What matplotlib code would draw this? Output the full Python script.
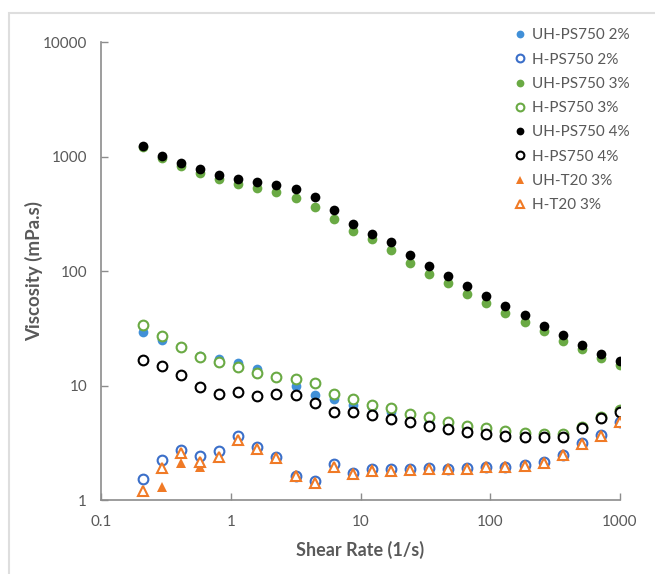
import matplotlib
matplotlib.use('Agg')
import matplotlib.pyplot as plt
from matplotlib.patches import Rectangle

plt.rcParams['font.family'] = ['Lato', 'DejaVu Sans']

# shear rate steps (1/s)
shear_rate = [0.21, 0.295, 0.414, 0.581, 0.815, 1.14, 1.60, 2.25, 3.16, 4.43,
              6.21, 8.72, 12.2, 17.2, 24.1, 33.8, 47.4, 66.5, 93.3, 131,
              184, 258, 362, 508, 713, 1000]

# viscosity (mPa.s)
uh_ps750_2 = [29.1, 25.2, 21.5, 18.2, 16.9, 15.8, 13.8, 11.9, 9.88, 8.25,
              7.57, 6.75, 6.52, 5.90, 5.52, 4.67, 4.51, 4.22, 3.87, 3.77,
              3.69, 3.62, 3.62, 4.22, 5.16, 5.90]
h_ps750_2 = [1.52, 2.23, 2.73, 2.42, 2.69, 3.62, 2.88, 2.39, 1.63, 1.47,
             2.05, 1.73, 1.87, 1.85, 1.85, 1.89, 1.87, 1.89, 1.95, 1.95,
             2.02, 2.16, 2.47, 3.12, 3.69, 4.82]
uh_ps750_3 = [1210, 975, 820, 712, 630, 580, 530, 485, 432, 360,
              287, 225, 190, 152, 118, 95, 77.8, 63.6, 52.7, 43.4,
              36.0, 29.8, 24.5, 20.7, 17.4, 15.0]
h_ps750_3 = [34.1, 27.2, 21.5, 17.6, 15.9, 14.4, 12.8, 11.8, 11.5, 10.6,
             8.5, 7.57, 6.80, 6.31, 5.63, 5.33, 4.82, 4.45, 4.22, 4.02,
             3.87, 3.77, 3.77, 4.36, 5.33, 6.10]
uh_ps750_4 = [1235, 1010, 885, 778, 695, 632, 596, 564, 524, 443,
              344, 256, 212, 179, 137, 111, 90, 73.7, 60.3, 49.6,
              40.9, 33.4, 27.5, 22.8, 18.9, 16.3]
h_ps750_4 = [16.7, 14.9, 12.3, 9.75, 8.41, 8.71, 8.13, 8.41, 8.29, 7.07,
             5.90, 5.82, 5.52, 5.09, 4.76, 4.45, 4.17, 3.90, 3.77, 3.62,
             3.57, 3.52, 3.57, 4.27, 5.23, 5.90]
uh_t20_3 = [1.18, 1.31, 2.12, 1.93, 2.36, 3.27, 2.73, 2.31, 1.65, 1.45,
            1.95, 1.71, 1.85, 1.83, 1.83, 1.87, 1.87, 1.89, 1.95, 1.97,
            2.02, 2.16, 2.47, 3.12, 3.69, 4.82]
h_t20_3 = [1.20, 1.89, 2.56, 2.16, 2.39, 3.31, 2.77, 2.33, 1.63, 1.42,
           1.95, 1.69, 1.80, 1.80, 1.82, 1.85, 1.85, 1.87, 1.93, 1.95,
           2.00, 2.12, 2.45, 3.08, 3.65, 4.76]

series = [
    ('UH-PS750 2%', uh_ps750_2, 'o', '#4190d8', True),
    ('H-PS750 2%', h_ps750_2, 'o', '#3b6fc9', False),
    ('UH-PS750 3%', uh_ps750_3, 'o', '#6aaa44', True),
    ('H-PS750 3%', h_ps750_3, 'o', '#6aaa44', False),
    ('UH-PS750 4%', uh_ps750_4, 'o', '#000000', True),
    ('H-PS750 4%', h_ps750_4, 'o', '#000000', False),
    ('UH-T20 3%', uh_t20_3, '^', '#f07a26', True),
    ('H-T20 3%', h_t20_3, '^', '#f07a26', False),
]

grey = '#595959'

fig = plt.figure(figsize=(6.55, 5.74), dpi=100)
ax = fig.add_axes([0.1542, 0.1289, 0.7924, 0.7979])

for label, vals, mk, col, filled in series:
    ax.plot(shear_rate, vals, linestyle='none', marker=mk, markersize=7,
            markerfacecolor=col if filled else 'white', markeredgecolor=col,
            markeredgewidth=0 if filled else 1.5, label=label)

ax.set_xscale('log')
ax.set_yscale('log')
ax.set_xlim(0.1, 1000)
ax.set_ylim(1, 10000)
ax.set_xticks([0.1, 1, 10, 100, 1000])
ax.set_xticklabels(['0.1', '1', '10', '100', '1000'])
ax.set_yticks([1, 10, 100, 1000, 10000])
ax.set_yticklabels(['1', '10', '100', '1000', '10000'])
ax.minorticks_off()

for side in ['top', 'right']:
    ax.spines[side].set_visible(False)
for side in ['left', 'bottom']:
    ax.spines[side].set_color('#8c8c8c')
    ax.spines[side].set_linewidth(1.2)
ax.tick_params(axis='both', direction='in', length=5, width=1.0,
               color='#8c8c8c', labelcolor=grey, labelsize=11)
ax.tick_params(axis='y', pad=10)
ax.tick_params(axis='x', pad=11)

ax.set_xlabel('Shear Rate (1/s)', fontsize=13, fontweight='bold', color=grey,
              labelpad=8)
ax.set_ylabel('Viscosity (mPa.s)', fontsize=13.5, fontweight='bold', color=grey)
ax.yaxis.set_label_coords(-0.112, 0.5)

ax.legend(loc='upper left', bbox_to_anchor=(0.777, 0.961),
          bbox_transform=fig.transFigure, frameon=False, fontsize=11,
          labelcolor=grey, markerscale=0.8, handlelength=0.6,
          handletextpad=0.5, labelspacing=0.67, borderaxespad=0)

# light outer frame
fig.patches.append(Rectangle((9 / 655, -0.05), 1.1, 1 - 13 / 574 + 0.05,
                             transform=fig.transFigure, fill=False,
                             edgecolor='#dedede', linewidth=1.5))

fig.savefig('out.png', dpi=100)
